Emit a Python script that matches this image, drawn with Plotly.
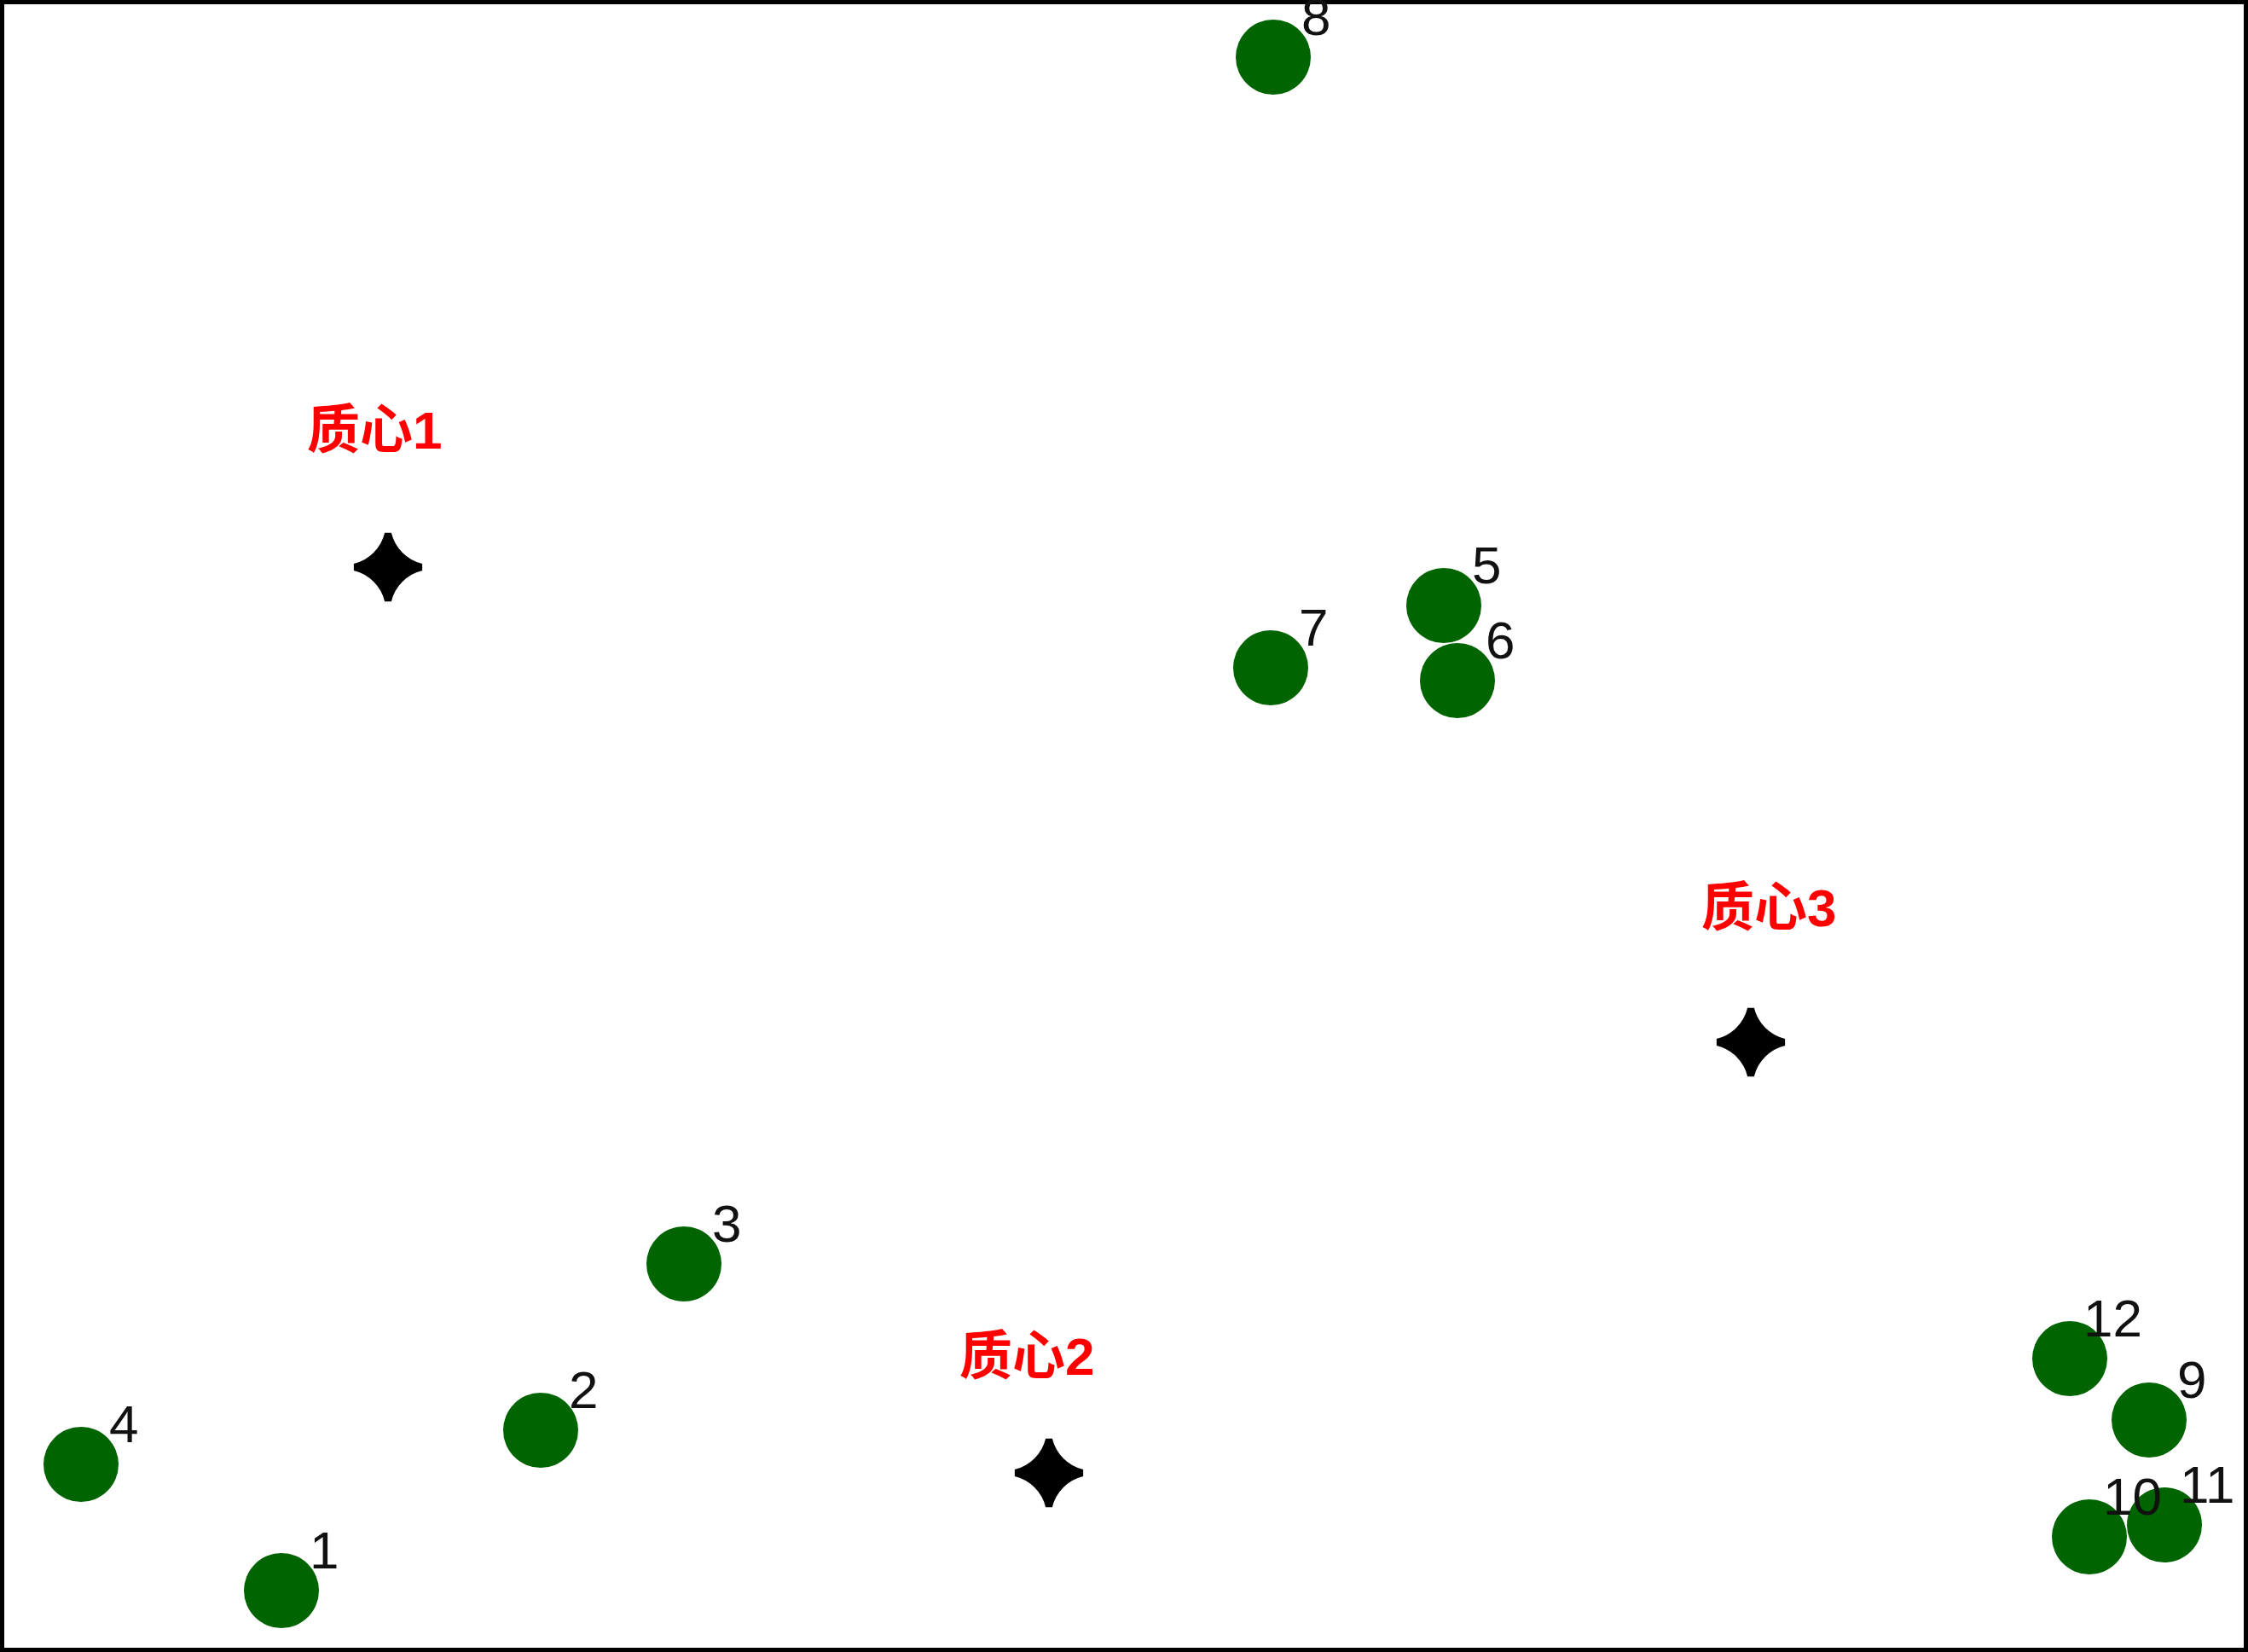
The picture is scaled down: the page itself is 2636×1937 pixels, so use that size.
import plotly.graph_objects as go

point_ids = [1, 2, 3, 4, 5, 6, 7, 8, 9, 10, 11, 12]
point_x = [330, 634, 802, 95, 1693, 1709, 1490, 1493, 2520, 2450, 2538, 2427]
point_y = [72, 260, 455, 220, 1227, 1139, 1154, 1870, 272, 135, 149, 344]

# Centroids
centroid_names = ["质心1", "质心2", "质心3"]
centroid_x = [455, 1230, 2053]
centroid_y = [1272, 210, 715]
centroid_label_x = [439, 1204, 2074]
centroid_label_y = [1433, 347, 873]

W, H = 2636, 1937

fig = go.Figure()

fig.add_trace(go.Scatter(
    x=point_x, y=point_y, mode="markers",
    marker=dict(symbol="circle", size=88, color="#006400", line=dict(width=0)),
    hoverinfo="skip", showlegend=False, cliponaxis=False,
))

fig.add_trace(go.Scatter(
    x=centroid_x, y=centroid_y, mode="markers",
    marker=dict(symbol="star-diamond", size=56, color="black",
                line=dict(width=8, color="black")),
    hoverinfo="skip", showlegend=False, cliponaxis=False,
))

annotations = []
for pid, px, py in zip(point_ids, point_x, point_y):
    annotations.append(dict(
        x=px, y=py, xref="x", yref="y", text=str(pid), showarrow=False,
        xanchor="center", yanchor="middle", xshift=50, yshift=48,
        font=dict(family="Liberation Sans, Arial, sans-serif", size=62, color="#111111"),
    ))
for name, lx, ly in zip(centroid_names, centroid_label_x, centroid_label_y):
    annotations.append(dict(
        x=lx, y=ly, xref="x", yref="y", text=name, showarrow=False,
        xanchor="center", yanchor="middle",
        font=dict(family="Liberation Sans, Noto Sans CJK SC, sans-serif", size=62,
                  color="#ff0000", weight="bold"),
    ))

fig.update_layout(
    width=W, height=H,
    margin=dict(l=0, r=0, t=0, b=0, pad=0),
    paper_bgcolor="white", plot_bgcolor="white",
    xaxis=dict(range=[0, W], visible=False, fixedrange=True),
    yaxis=dict(range=[0, H], visible=False, fixedrange=True),
    annotations=annotations,
    shapes=[dict(type="rect", xref="paper", yref="paper", x0=0, y0=0, x1=1, y1=1,
                 line=dict(color="black", width=10), fillcolor="rgba(0,0,0,0)", layer="above")],
)

fig.write_html("out.html", post_script="document.body.style.margin='0';document.body.style.overflow='hidden';")
